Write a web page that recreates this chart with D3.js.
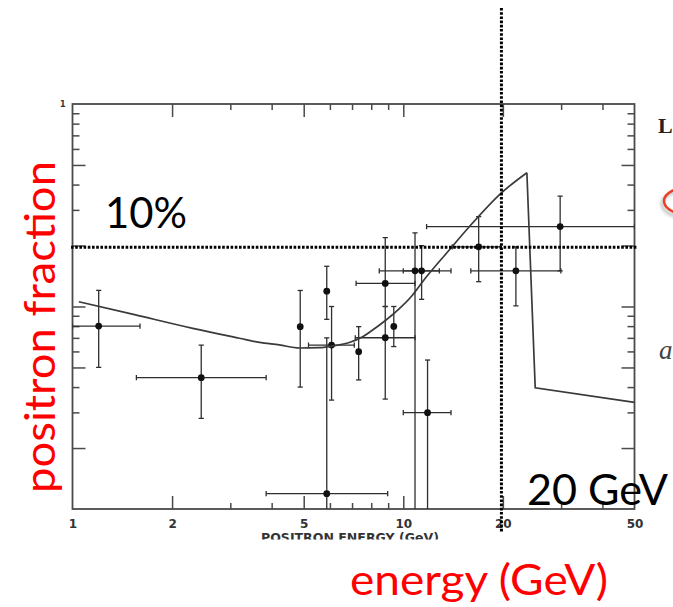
<!DOCTYPE html>
<html>
<head>
<meta charset="utf-8">
<script src="https://cdn.jsdelivr.net/npm/d3@7"></script>
<style>
  html, body { margin: 0; padding: 0; background: #fff; }
  svg { display: block; }
</style>
</head>
<body>
<svg id="chart" width="673" height="607"></svg>
<script>
// Measured positron fraction e+/(e+ + e-) versus energy, with error boxes
const energy   = [1.2,   2.45,   4.88,  5.87,  5.87,   6.07,   7.33,   8.82,   8.82,  9.36,   10.85, 11.36, 11.84,  16.9,  21.9,  29.8];
const fraction = [0.080, 0.0445, 0.0795, 0.119, 0.0119, 0.0645, 0.0598, 0.0701, 0.130, 0.0797, 0.150, 0.150, 0.0299, 0.197, 0.150, 0.248];
const energyLow  = [1.0,  1.56, null, null, 3.85, 5.17, null, 7.16, 7.20, null, 8.46,  10.0,  10.0,  14.06, 16.0,  11.76];
const energyHigh = [1.6,  3.85, null, null, 8.97, 7.11, null, 10.85, 10.85, null, 12.85, 13.94, 13.94, 19.73, 29.95, 50];
// lower bounds of 0.001 run below the bottom of the frame
const fractionLow  = [0.050, 0.028,  0.040, 0.0864, 0.001, 0.0345, 0.0434, 0.0349, 0.100, 0.0634, 0.001, 0.1085, 0.001,  0.1326, 0.1006, 0.150];
const fractionHigh = [0.120, 0.0645, 0.120, 0.158,  0.070, 0.100,  0.0795, 0.100,  0.219, 0.100,  0.231, 0.200,  0.0544, 0.278,  0.197,  0.351];

// Model prediction: smooth rise up to the cutoff, then a sharp drop
const curveEnergy   = [1.045, 1.54, 2.31, 3.195, 3.67, 4.22, 4.85, 5.57, 6.10, 6.87, 7.535, 8.0, 8.87, 9.51, 10.67, 11.44, 13.77, 15.83, 19.73, 23.64];
const curveFraction = [0.1056, 0.0911, 0.0780, 0.0697, 0.0665, 0.0646, 0.0624, 0.0626, 0.0638, 0.0664, 0.0709, 0.0757, 0.0858, 0.0943, 0.1139, 0.1326, 0.1901, 0.2477, 0.3622, 0.4578];
const dropEnergy   = [23.64, 25.05, 50];
const dropFraction = [0.4578, 0.0397, 0.0336];

// Axis ticks
const xLabels     = [1, 2, 5, 10, 20, 50];
const xMajorTicks = [2, 5, 10, 20];
const xMinorTicks = [3, 4, 6, 7, 8, 9, 30, 40];
const yMajorTicks = [0.02, 0.05, 0.1, 0.2, 0.5];
const yMinorTicks = [0.03, 0.04, 0.06, 0.07, 0.08, 0.09, 0.3, 0.4, 0.6, 0.7, 0.8, 0.9];
const yLabels     = [1];

// Reference markers
const markerEnergy = 19.8;
const markerFraction = 0.196;

const svg = d3.select("#chart");
svg.append("rect").attr("width", 673).attr("height", 607).attr("fill", "#fff");

const x = d3.scaleLog().domain([1, 50]).range([72.5, 634.5]);
const y = d3.scaleLog().domain([0.01, 1]).range([509, 104]);
const [x0, x1] = x.range();
const [y0, y1] = y.range();

const frameColor = "#4a4a4a";
const inkColor = "#2e2e2e";

const defs = svg.append("defs");
defs.append("clipPath").attr("id", "plotClip")
  .append("rect").attr("x", x0).attr("y", y1).attr("width", x1 - x0).attr("height", y0 - y1);
defs.append("clipPath").attr("id", "titleClip")
  .append("rect").attr("x", 0).attr("y", 0).attr("width", 673).attr("height", 539.5);
const blur = defs.append("filter").attr("id", "shadowBlur").attr("x", "-50%").attr("y", "-50%").attr("width", "200%").attr("height", "200%");
blur.append("feGaussianBlur").attr("stdDeviation", 1.6);

// Axes with inward ticks on all four sides
function styleAxis(g) {
  g.select(".domain").remove();
  g.selectAll(".tick line").attr("stroke", frameColor).attr("stroke-width", 1.5);
}
function addAxes(ticks, len) {
  svg.append("g").attr("transform", `translate(0,${y0})`)
    .call(d3.axisBottom(x).tickValues(ticks).tickSizeInner(-len).tickSizeOuter(0).tickFormat(""))
    .call(styleAxis);
  svg.append("g").attr("transform", `translate(0,${y1})`)
    .call(d3.axisTop(x).tickValues(ticks).tickSizeInner(-len).tickSizeOuter(0).tickFormat(""))
    .call(styleAxis);
}
addAxes(xMajorTicks, 13);
addAxes(xMinorTicks, 6);
function addYAxes(ticks, len) {
  svg.append("g").attr("transform", `translate(${x0},0)`)
    .call(d3.axisLeft(y).tickValues(ticks).tickSizeInner(-len).tickSizeOuter(0).tickFormat(""))
    .call(styleAxis);
  svg.append("g").attr("transform", `translate(${x1},0)`)
    .call(d3.axisRight(y).tickValues(ticks).tickSizeInner(-len).tickSizeOuter(0).tickFormat(""))
    .call(styleAxis);
}
addYAxes(yMajorTicks, 13);
addYAxes(yMinorTicks, 7);

svg.append("rect")
  .attr("x", x0).attr("y", y1).attr("width", x1 - x0).attr("height", y0 - y1)
  .attr("fill", "none").attr("stroke", frameColor).attr("stroke-width", 1.8);

// Tick labels
const xLab = svg.append("g").attr("transform", `translate(0,${y0})`)
  .call(d3.axisBottom(x).tickValues(xLabels).tickSize(0).tickPadding(10).tickFormat(d3.format("d")));
xLab.select(".domain").remove();
xLab.selectAll("text")
  .attr("font-family", "DejaVu Sans").attr("font-weight", "bold").attr("font-size", 12)
  .attr("fill", "#333");

const yLab = svg.append("g").attr("transform", `translate(${x0 - 7},0)`)
  .call(d3.axisLeft(y).tickValues(yLabels).tickSize(0).tickPadding(0).tickFormat(d3.format("d")));
yLab.select(".domain").remove();
yLab.selectAll("text")
  .attr("font-family", "DejaVu Sans").attr("font-weight", "bold").attr("font-size", 8)
  .attr("fill", "#333");

// Axis title of the plot, cut by the caption below it
svg.append("text")
  .attr("clip-path", "url(#titleClip)")
  .attr("x", 261).attr("y", 542)
  .attr("font-family", "DejaVu Sans").attr("font-weight", "bold").attr("font-size", 12)
  .attr("textLength", 178).attr("lengthAdjust", "spacingAndGlyphs")
  .attr("fill", "#333")
  .text("POSITRON ENERGY (GeV)");

// Data
const plot = svg.append("g").attr("clip-path", "url(#plotClip)");
const cap = 2.6;
const idx = d3.range(energy.length);

const bars = plot.append("g").attr("stroke", inkColor).attr("stroke-width", 1.3).attr("fill", "none");
idx.forEach(i => {
  const cx = x(energy[i]), cy = y(fraction[i]);
  const yt = y(fractionHigh[i]), yb = y(fractionLow[i]);
  bars.append("line").attr("x1", cx).attr("x2", cx).attr("y1", yt).attr("y2", yb);
  bars.append("line").attr("x1", cx - cap).attr("x2", cx + cap).attr("y1", yt).attr("y2", yt);
  bars.append("line").attr("x1", cx - cap).attr("x2", cx + cap).attr("y1", yb).attr("y2", yb);
  if (energyLow[i] != null) {
    const xl = x(energyLow[i]), xr = x(energyHigh[i]);
    bars.append("line").attr("x1", xl).attr("x2", xr).attr("y1", cy).attr("y2", cy);
    bars.append("line").attr("x1", xl).attr("x2", xl).attr("y1", cy - cap).attr("y2", cy + cap);
    bars.append("line").attr("x1", xr).attr("x2", xr).attr("y1", cy - cap).attr("y2", cy + cap);
  }
});

plot.append("g").selectAll("circle")
  .data(idx)
  .join("circle")
  .attr("cx", i => x(energy[i]))
  .attr("cy", i => y(fraction[i]))
  .attr("r", 3.4)
  .attr("fill", "#111");

// Model curve
const smoothLine = d3.line().x(i => x(curveEnergy[i])).y(i => y(curveFraction[i])).curve(d3.curveMonotoneX);
const dropLine = d3.line().x(i => x(dropEnergy[i])).y(i => y(dropFraction[i]));
plot.append("path").attr("d", smoothLine(d3.range(curveEnergy.length)))
  .attr("fill", "none").attr("stroke", "#3a3a3a").attr("stroke-width", 1.7);
plot.append("path").attr("d", dropLine(d3.range(dropEnergy.length)))
  .attr("fill", "none").attr("stroke", "#3a3a3a").attr("stroke-width", 1.7).attr("stroke-linejoin", "miter");

// Dotted guide lines
svg.append("line")
  .attr("x1", 71).attr("x2", 637)
  .attr("y1", y(markerFraction)).attr("y2", y(markerFraction))
  .attr("stroke", "#000").attr("stroke-width", 3).attr("stroke-dasharray", "2.6 1.6");
svg.append("line")
  .attr("x1", x(markerEnergy)).attr("x2", x(markerEnergy))
  .attr("y1", 8).attr("y2", 533)
  .attr("stroke", "#000").attr("stroke-width", 3).attr("stroke-dasharray", "2.6 1.6");

// Captions
const captionFont = "Lato, Carlito, 'Open Sans', sans-serif";
svg.append("text").attr("x", 105).attr("y", 228)
  .attr("font-family", captionFont).attr("font-size", 43).attr("fill", "#000")
  .attr("textLength", 82).attr("lengthAdjust", "spacingAndGlyphs")
  .text("10%");
svg.append("text").attr("x", 527).attr("y", 505)
  .attr("font-family", captionFont).attr("font-size", 43).attr("fill", "#000")
  .attr("textLength", 141).attr("lengthAdjust", "spacingAndGlyphs")
  .text("20 GeV");
svg.append("text").attr("transform", "translate(55,493) rotate(-90)")
  .attr("font-family", captionFont).attr("font-size", 43).attr("fill", "#ff0000")
  .attr("textLength", 332).attr("lengthAdjust", "spacingAndGlyphs")
  .text("positron fraction");
svg.append("text").attr("x", 350).attr("y", 595)
  .attr("font-family", captionFont).attr("font-size", 43).attr("fill", "#ff0000")
  .attr("textLength", 258).attr("lengthAdjust", "spacingAndGlyphs")
  .text("energy (GeV)");

// Edge of the neighbouring panel
svg.append("text").attr("x", 658).attr("y", 133)
  .attr("font-family", "'Liberation Serif', serif").attr("font-weight", "bold").attr("font-size", 22)
  .attr("fill", "#222").text("L");
svg.append("ellipse").attr("cx", 688).attr("cy", 204).attr("rx", 26).attr("ry", 14)
  .attr("fill", "none").attr("stroke", "#999").attr("stroke-width", 3).attr("opacity", 0.6)
  .attr("filter", "url(#shadowBlur)");
svg.append("ellipse").attr("cx", 690).attr("cy", 201).attr("rx", 26).attr("ry", 14)
  .attr("fill", "none").attr("stroke", "#e8402a").attr("stroke-width", 2.5);
svg.append("text").attr("x", 659).attr("y", 359)
  .attr("font-family", "'Liberation Serif', serif").attr("font-style", "italic").attr("font-size", 27)
  .attr("fill", "#444").text("a");
</script>
</body>
</html>
